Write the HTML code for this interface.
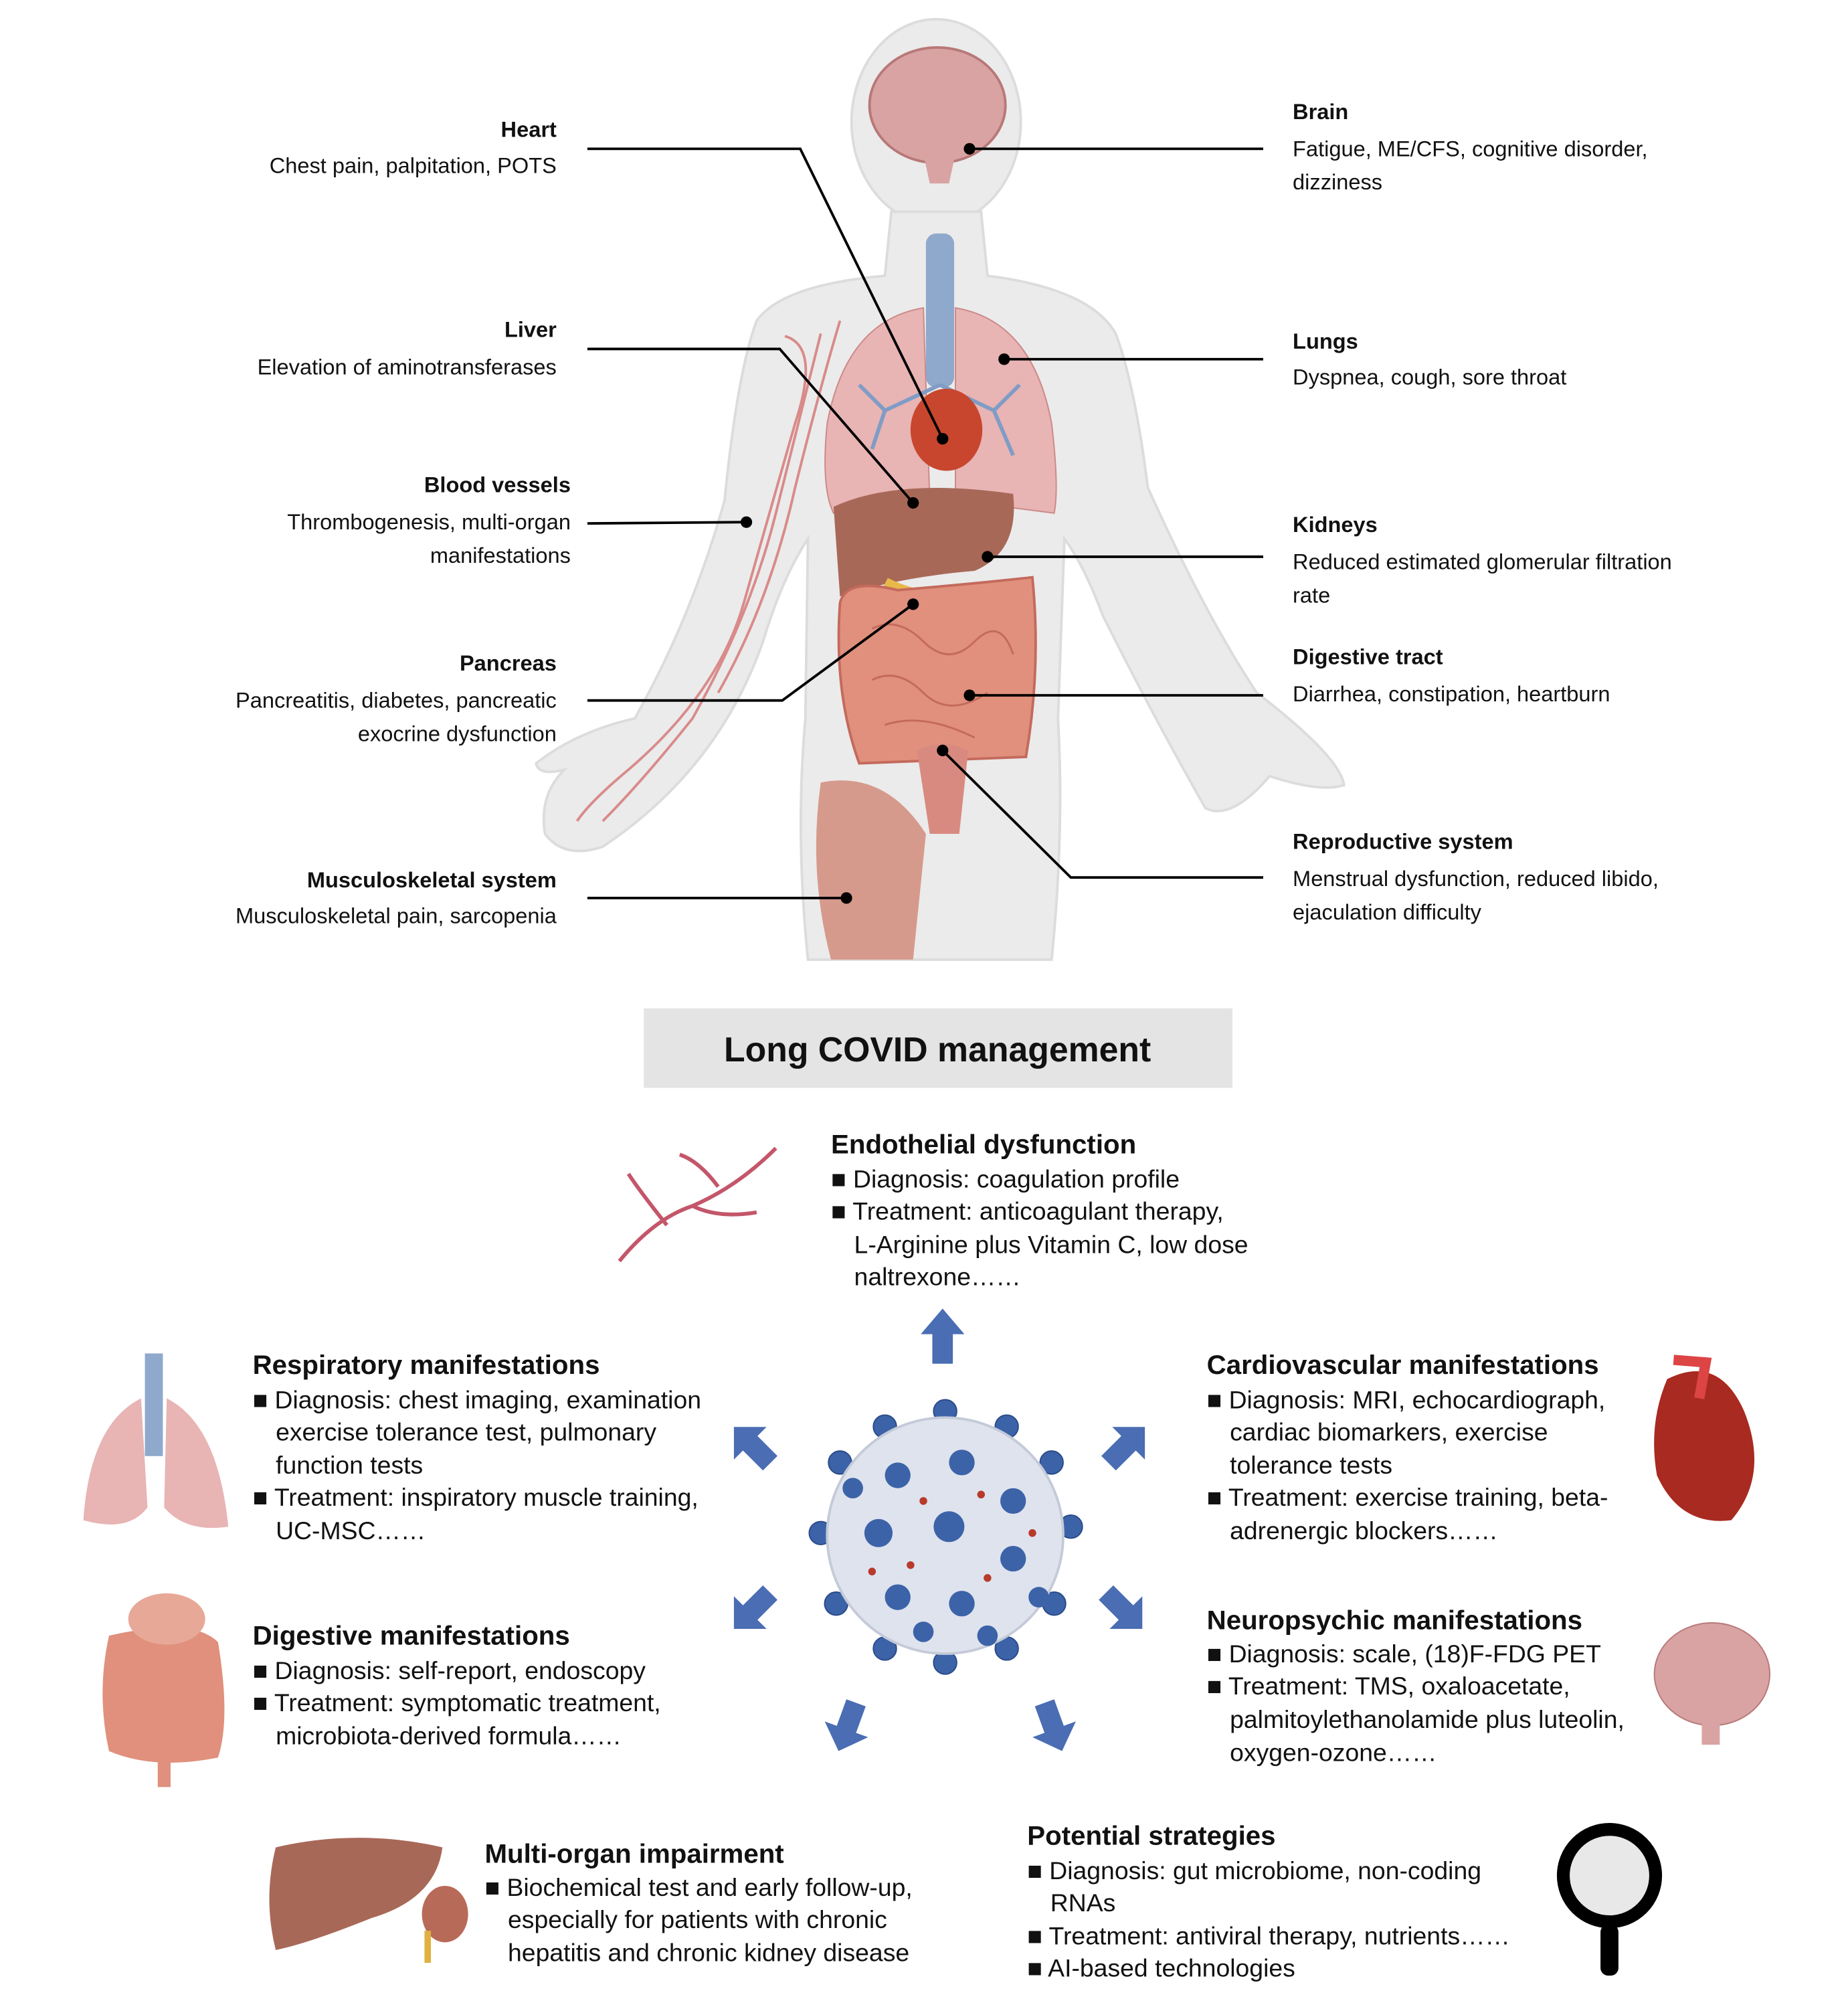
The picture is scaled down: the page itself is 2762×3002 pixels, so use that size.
<!DOCTYPE html>
<html><head><meta charset="utf-8"><style>
html,body{margin:0;padding:0;background:#fff}
svg{display:block}
text{font-family:"Liberation Sans",sans-serif;fill:#111}
.b{font-weight:bold}
.s{font-size:17px}
.t{font-size:21px;font-weight:bold}
.m{font-size:19.5px}
</style></head><body>
<svg width="2762" height="3002" viewBox="0 0 1441 1566" preserveAspectRatio="none" xmlns="http://www.w3.org/2000/svg">
<rect width="1441" height="1566" fill="#fff"/>
<g fill="#ebebeb" stroke="#dcdcdc" stroke-width="2">
<ellipse cx="730" cy="95" rx="66" ry="80"/>
<path d="M695 165 L765 165 L770 215 Q850 225 870 260 Q885 300 895 380 Q940 480 980 540 Q1045 590 1048 612 Q1030 618 990 605 Q960 640 940 630 Q900 560 860 480 Q845 440 830 420 L825 560 Q830 650 820 748 L630 748 Q620 650 628 560 L630 420 Q610 450 595 500 Q560 600 470 660 Q440 670 425 650 Q420 620 440 600 Q420 605 418 595 Q450 570 495 560 Q540 480 565 390 Q575 290 590 250 Q610 222 690 215 Z"/>
</g>
<g fill="none" stroke="#d98a8a" stroke-width="2">
<path d="M612 262 Q640 270 620 330 Q600 400 580 470 Q560 540 490 600 Q460 625 450 640"/>
<path d="M640 260 Q625 320 605 400 Q585 480 540 560 Q500 610 470 640"/>
<path d="M655 250 Q640 300 620 380 Q600 470 560 540"/>
</g>
<ellipse cx="731" cy="82" rx="53" ry="45" fill="#d9a3a3" stroke="#b87878" stroke-width="2"/>
<path d="M720 120 L745 120 L740 143 L725 143 Z" fill="#d9a3a3"/>
<rect x="722" y="182" width="22" height="120" rx="8" fill="#8ea9cc"/>
<path d="M720 240 Q660 250 645 330 Q640 380 650 400 L725 390 Z" fill="#e8b4b4" stroke="#c88" stroke-width="1"/>
<path d="M745 240 Q805 250 820 330 Q826 380 822 400 L745 390 Z" fill="#e8b4b4" stroke="#c88" stroke-width="1"/>
<g stroke="#7f9cc6" stroke-width="3" fill="none"><path d="M733 300 L690 320 L670 300 M690 320 L680 350 M733 300 L775 320 L795 300 M775 320 L790 355"/></g>
<ellipse cx="738" cy="335" rx="28" ry="32" fill="#c8462e"/>
<path d="M650 395 Q700 372 790 385 Q795 430 760 445 Q700 450 655 465 Z" fill="#a86858"/>
<path d="M690 455 Q730 475 770 460" stroke="#e8b84a" stroke-width="10" fill="none"/>
<path d="M655 470 Q660 450 700 460 Q760 455 805 450 Q812 520 800 590 L670 595 Q650 540 655 470 Z" fill="#e0907c" stroke="#c46a5c" stroke-width="2"/>
<g fill="none" stroke="#c46a5c" stroke-width="1.5"><path d="M680 490 Q700 480 720 500 Q740 520 760 500 Q780 480 790 510 M680 530 Q700 520 720 540 Q740 560 770 540 M690 565 Q720 555 760 575"/></g>
<path d="M715 585 Q735 575 755 585 L748 650 L725 650 Z" fill="#d98a80"/>
<path d="M640 610 Q690 600 722 650 L712 748 L648 748 Q630 680 640 610 Z" fill="#d69a8c"/>
<g stroke="#000" stroke-width="2" fill="none">
<polyline points="458,116 624,116 735,342"/>
<polyline points="458,272 608,272 712,392"/>
<polyline points="458,408 582,407"/>
<polyline points="458,546 610,546 712,471"/>
<polyline points="458,700 660,700"/>
<polyline points="985,116 756,116"/>
<polyline points="985,280 783,280"/>
<polyline points="985,434 770,434"/>
<polyline points="985,542 756,542"/>
<polyline points="985,684 835,684 735,585"/>
</g>
<g fill="#000"><circle cx="735" cy="342" r="4.5"/><circle cx="712" cy="392" r="4.5"/><circle cx="582" cy="407" r="4.5"/><circle cx="712" cy="471" r="4.5"/><circle cx="660" cy="700" r="4.5"/><circle cx="756" cy="116" r="4.5"/><circle cx="783" cy="280" r="4.5"/><circle cx="770" cy="434" r="4.5"/><circle cx="756" cy="542" r="4.5"/><circle cx="735" cy="585" r="4.5"/></g>
<g class="s" text-anchor="end" dominant-baseline="central">
<text x="434" y="101" class="b">Heart</text><text x="434" y="129">Chest pain, palpitation, POTS</text>
<text x="434" y="257" class="b">Liver</text><text x="434" y="286">Elevation of aminotransferases</text>
<text x="445" y="378" class="b">Blood vessels</text><text x="445" y="407">Thrombogenesis, multi-organ</text><text x="445" y="433">manifestations</text>
<text x="434" y="517" class="b">Pancreas</text><text x="434" y="546">Pancreatitis, diabetes, pancreatic</text><text x="434" y="572">exocrine dysfunction</text>
<text x="434" y="686" class="b">Musculoskeletal system</text><text x="434" y="714">Musculoskeletal pain, sarcopenia</text>
</g>
<g class="s" dominant-baseline="central">
<text x="1008" y="87" class="b">Brain</text><text x="1008" y="116">Fatigue, ME/CFS, cognitive disorder,</text><text x="1008" y="142">dizziness</text>
<text x="1008" y="266" class="b">Lungs</text><text x="1008" y="294">Dyspnea, cough, sore throat</text>
<text x="1008" y="409" class="b">Kidneys</text><text x="1008" y="438">Reduced estimated glomerular filtration</text><text x="1008" y="464">rate</text>
<text x="1008" y="512" class="b">Digestive tract</text><text x="1008" y="541">Diarrhea, constipation, heartburn</text>
<text x="1008" y="656" class="b">Reproductive system</text><text x="1008" y="685">Menstrual dysfunction, reduced libido,</text><text x="1008" y="711">ejaculation difficulty</text>
</g>
<rect x="502" y="786" width="459" height="62" fill="#e4e4e4"/>
<text x="731" y="818" text-anchor="middle" dominant-baseline="central" style="font-size:27px;font-weight:bold">Long COVID management</text>
<g>
<g fill="#3c63a8" stroke="#2a4a88" stroke-width="1">
<circle cx="737" cy="1100" r="9"/><circle cx="690" cy="1112" r="9"/><circle cx="785" cy="1112" r="9"/><circle cx="655" cy="1140" r="9"/><circle cx="820" cy="1140" r="9"/><circle cx="640" cy="1195" r="9"/><circle cx="835" cy="1190" r="9"/><circle cx="652" cy="1250" r="9"/><circle cx="822" cy="1250" r="9"/><circle cx="690" cy="1285" r="9"/><circle cx="785" cy="1285" r="9"/><circle cx="737" cy="1296" r="9"/>
</g>
<circle cx="737" cy="1197" r="92" fill="#dfe3ee" stroke="#c4cad8" stroke-width="2"/>
<g fill="#3c63a8">
<circle cx="700" cy="1150" r="10"/><circle cx="750" cy="1140" r="10"/><circle cx="790" cy="1170" r="10"/><circle cx="685" cy="1195" r="11"/><circle cx="740" cy="1190" r="12"/><circle cx="790" cy="1215" r="10"/><circle cx="700" cy="1245" r="10"/><circle cx="750" cy="1250" r="10"/><circle cx="665" cy="1160" r="8"/><circle cx="810" cy="1245" r="8"/><circle cx="720" cy="1272" r="8"/><circle cx="770" cy="1275" r="8"/>
</g>
<g fill="#b83a2a"><circle cx="720" cy="1170" r="3"/><circle cx="765" cy="1165" r="3"/><circle cx="710" cy="1220" r="3"/><circle cx="770" cy="1230" r="3"/><circle cx="680" cy="1225" r="3"/><circle cx="805" cy="1195" r="3"/></g>
</g>
<g fill="#4a6db3">
<path d="M735 1020 L752 1040 L743 1040 L743 1063 L727 1063 L727 1040 L718 1040 Z"/>
<g transform="translate(585,1125) rotate(-45)"><path d="M0 -18 L18 0 L8 0 L8 22 L-8 22 L-8 0 L-18 0 Z"/></g>
<g transform="translate(880,1125) rotate(45)"><path d="M0 -18 L18 0 L8 0 L8 22 L-8 22 L-8 0 L-18 0 Z"/></g>
<g transform="translate(585,1257) rotate(-135)"><path d="M0 -18 L18 0 L8 0 L8 22 L-8 22 L-8 0 L-18 0 Z"/></g>
<g transform="translate(878,1257) rotate(135)"><path d="M0 -18 L18 0 L8 0 L8 22 L-8 22 L-8 0 L-18 0 Z"/></g>
<g transform="translate(660,1348) rotate(-160)"><path d="M0 -18 L18 0 L8 0 L8 22 L-8 22 L-8 0 L-18 0 Z"/></g>
<g transform="translate(822,1348) rotate(160)"><path d="M0 -18 L18 0 L8 0 L8 22 L-8 22 L-8 0 L-18 0 Z"/></g>
</g>
<g fill="none" stroke="#c4566a" stroke-width="3"><path d="M483 983 Q510 950 540 940 Q575 925 605 895 M540 940 Q560 950 590 945 M520 955 Q500 930 490 915 M560 925 Q545 905 530 900"/></g>
<g><rect x="113" y="1055" width="14" height="80" fill="#8ea9cc"/><path d="M110 1090 Q70 1110 65 1185 Q100 1195 115 1175 Z" fill="#e8b4b4"/><path d="M130 1090 Q170 1110 178 1190 Q145 1195 128 1175 Z" fill="#e8b4b4"/></g>
<g><path d="M1300 1075 Q1340 1055 1360 1100 Q1380 1150 1350 1185 Q1310 1190 1292 1150 Q1285 1110 1300 1075 Z" fill="#a82a20"/><path d="M1305 1060 L1330 1062 L1325 1090" stroke="#d44" stroke-width="8" fill="none"/></g>
<g><path d="M85 1275 Q150 1260 170 1280 Q180 1340 170 1370 Q120 1380 85 1365 Q75 1320 85 1275 Z" fill="#e0907c"/><ellipse cx="130" cy="1262" rx="30" ry="20" fill="#e8a898"/><rect x="123" y="1365" width="10" height="28" fill="#e0907c"/></g>
<g><ellipse cx="1335" cy="1305" rx="45" ry="40" fill="#d9a3a3" stroke="#b87878"/><rect x="1327" y="1340" width="14" height="20" fill="#d9a3a3"/></g>
<g><path d="M215 1440 Q280 1425 345 1440 Q340 1480 290 1495 Q240 1515 215 1520 Q205 1480 215 1440 Z" fill="#a86858"/><ellipse cx="347" cy="1492" rx="18" ry="22" fill="#b86a58"/><rect x="331" y="1505" width="5" height="25" fill="#e0b040"/></g>
<g><circle cx="1255" cy="1462" r="36" fill="#e8e8e8" stroke="#000" stroke-width="10"/><rect x="1248" y="1500" width="14" height="40" rx="6" fill="#000"/></g>
<g class="m" dominant-baseline="central">
<text x="648" y="892" class="t">Endothelial dysfunction</text>
<text x="648" y="919">■ Diagnosis: coagulation profile</text>
<text x="648" y="944">■ Treatment: anticoagulant therapy,</text>
<text x="666" y="970">L-Arginine plus Vitamin C, low dose</text>
<text x="666" y="995">naltrexone……</text>
<text x="197" y="1064" class="t">Respiratory manifestations</text>
<text x="197" y="1091">■ Diagnosis: chest imaging, examination</text>
<text x="215" y="1116">exercise tolerance test, pulmonary</text>
<text x="215" y="1142">function tests</text>
<text x="197" y="1167">■ Treatment: inspiratory muscle training,</text>
<text x="215" y="1193">UC-MSC……</text>
<text x="941" y="1064" class="t">Cardiovascular manifestations</text>
<text x="941" y="1091">■ Diagnosis: MRI, echocardiograph,</text>
<text x="959" y="1116">cardiac biomarkers, exercise</text>
<text x="959" y="1142">tolerance tests</text>
<text x="941" y="1167">■ Treatment:  exercise training, beta-</text>
<text x="959" y="1193">adrenergic blockers……</text>
<text x="197" y="1275" class="t">Digestive manifestations</text>
<text x="197" y="1302">■ Diagnosis: self-report, endoscopy</text>
<text x="197" y="1327">■ Treatment: symptomatic treatment,</text>
<text x="215" y="1353">microbiota-derived formula……</text>
<text x="941" y="1263" class="t">Neuropsychic manifestations</text>
<text x="941" y="1289">■ Diagnosis: scale, (18)F-FDG PET</text>
<text x="941" y="1314">■ Treatment: TMS, oxaloacetate,</text>
<text x="959" y="1340">palmitoylethanolamide plus luteolin,</text>
<text x="959" y="1366">oxygen-ozone……</text>
<text x="378" y="1445" class="t">Multi-organ impairment</text>
<text x="378" y="1471">■ Biochemical test and early follow-up,</text>
<text x="396" y="1496">especially for patients with chronic</text>
<text x="396" y="1522">hepatitis and chronic kidney disease</text>
<text x="801" y="1431" class="t">Potential strategies</text>
<text x="801" y="1458">■ Diagnosis: gut microbiome, non-coding</text>
<text x="819" y="1483">RNAs</text>
<text x="801" y="1509">■ Treatment: antiviral therapy, nutrients……</text>
<text x="801" y="1534">■ AI-based technologies</text>
</g>
</svg>
</body></html>
